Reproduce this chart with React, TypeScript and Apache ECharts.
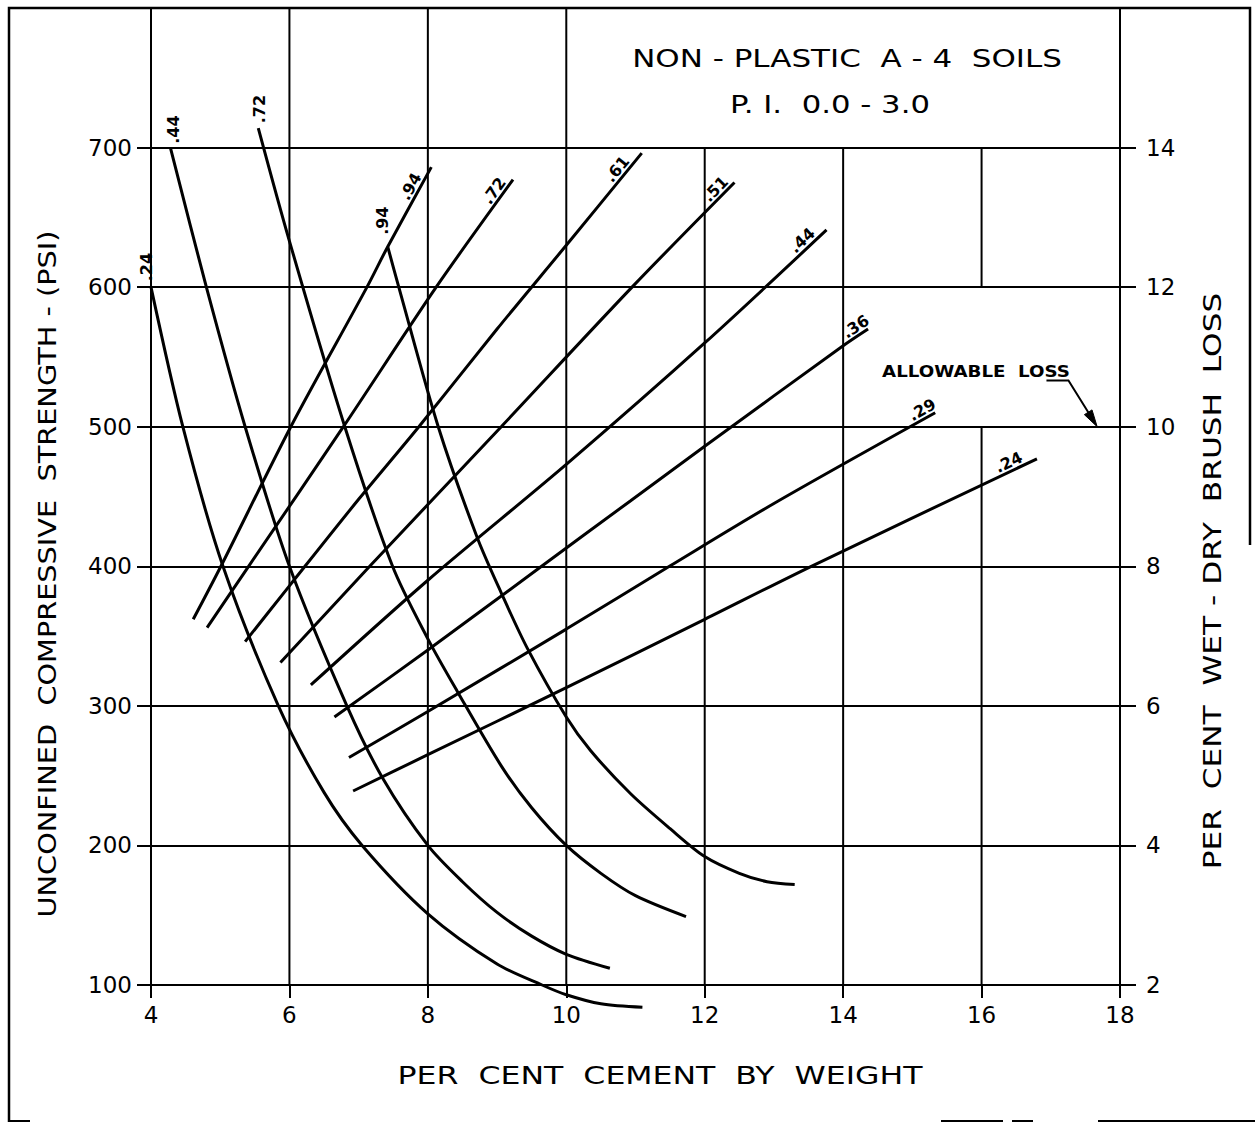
import { useEffect, useRef } from 'react';
import * as echarts from 'echarts';

const FONT = '"DejaVu Sans", "Liberation Sans", sans-serif';
const INK = '#000';

// Axis values
const cementTicks = [4, 6, 8, 10, 12, 14, 16, 18];
const strengthTicks = [100, 200, 300, 400, 500, 600, 700];
const lossTicks = [2, 4, 6, 8, 10, 12, 14];
const strengthTop = 800; // upper edge of the sheet, in psi
const lossTop = 16; // same edge on the loss scale
const allowableLoss = 10; // per cent
const allowableArrowCement = 17.67;

// Wet-dry brush loss (per cent) against per cent cement
const loss24 = [[4.0, 12.0], [4.46, 10.0], [5.04, 8.0], [5.84, 6.0], [6.5, 4.76], [7.05, 4.0], [8.0, 3.02], [9.0, 2.3], [9.65, 2.0], [10.0, 1.86], [10.5, 1.73], [11.1, 1.68]];
const loss44 = [[4.28, 14.0], [4.8, 12.0], [5.36, 10.0], [6.0, 8.0], [6.83, 6.0], [7.35, 4.96], [8.0, 4.0], [8.5, 3.48], [9.0, 3.04], [9.5, 2.7], [10.0, 2.44], [10.63, 2.24]];
const loss72 = [[5.55, 14.28], [6.0, 12.66], [6.8, 10.0], [7.49, 8.0], [8.0, 6.96], [8.43, 6.2], [9.06, 5.14], [9.5, 4.54], [10.0, 4.0], [10.5, 3.6], [11.0, 3.28], [11.73, 2.98]];
const loss94 = [[7.42, 12.58], [7.58, 12.0], [8.15, 10.0], [8.71, 8.42], [9.06, 7.62], [9.44, 6.82], [10.0, 5.84], [10.35, 5.36], [10.93, 4.74], [11.5, 4.24], [12.0, 3.84], [12.5, 3.6], [12.9, 3.48], [13.3, 3.44]];

// Unconfined compressive strength (psi) against per cent cement
const strength94 = [[4.61, 362], [5.01, 400], [6.02, 500], [7.12, 600], [7.42, 629], [8.05, 686]];
const strength72 = [[4.81, 356], [5.41, 400], [6.78, 500], [8.12, 600], [9.23, 677]];
const strength61 = [[5.36, 346], [6.0, 386], [7.0, 448], [7.87, 500], [9.0, 570], [10.0, 630], [11.09, 696]];
const strength51 = [[5.87, 331], [7.16, 400], [9.06, 500], [10.95, 600], [12.43, 675]];
const strength44 = [[6.31, 315], [8.0, 390], [10.0, 473], [12.0, 560], [13.76, 641]];
const strength36 = [[6.65, 292], [8.0, 340], [9.56, 397], [10.93, 447], [12.0, 486], [14.0, 558], [14.36, 570]];
const strength29 = [[6.86, 263], [8.0, 296], [10.0, 355], [11.49, 400], [13.0, 445], [15.33, 510]];
const strength24 = [[6.92, 239], [8.0, 265], [10.0, 313], [12.0, 362], [13.54, 400], [16.8, 477]];

const lossCurves = [
  { id: 'loss-24', label: '.24', points: loss24 },
  { id: 'loss-44', label: '.44', points: loss44 },
  { id: 'loss-72', label: '.72', points: loss72 },
  { id: 'loss-94', label: '.94', points: loss94 },
];

const strengthCurves = [
  { id: 'str-94', label: '.94', points: strength94 },
  { id: 'str-72', label: '.72', points: strength72 },
  { id: 'str-61', label: '.61', points: strength61 },
  { id: 'str-51', label: '.51', points: strength51 },
  { id: 'str-44', label: '.44', points: strength44 },
  { id: 'str-36', label: '.36', points: strength36 },
  { id: 'str-29', label: '.29', points: strength29 },
  { id: 'str-24', label: '.24', points: strength24 },
];

// Vertical rules of the sheet: [cement, from psi, to psi]
const verticalRules = [
  [6, 100, strengthTop],
  [8, 100, strengthTop],
  [10, 100, strengthTop],
  [12, 100, 700],
  [14, 100, 700],
  [16, 100, 500],
  [16, 600, 700],
];

// Label layout (screen pixels)
const lossLabelOffset: Record<string, [number, number]> = {
  'loss-24': [-5, -20],
  'loss-44': [3, -18],
  'loss-72': [1, -19],
  'loss-94': [-5, -26],
};
const strengthLabelBack: Record<string, number> = {
  'str-94': 27, 'str-72': 20, 'str-61': 28, 'str-51': 18,
  'str-44': 25, 'str-36': 9, 'str-29': 10, 'str-24': 27,
};
const STRENGTH_LABEL_LIFT = 9;

function measure(text: string, font: string): number {
  const ctx = document.createElement('canvas').getContext('2d');
  if (!ctx) return text.length * 12;
  ctx.font = font;
  return ctx.measureText(text).width;
}

function fittedText(
  text: string, cx: number, cy: number, size: number, width: number,
  rotation = 0, weight = 'normal'
) {
  const w = measure(text, `${weight} ${size}px ${FONT}`);
  return {
    type: 'text', x: cx, y: cy, rotation, scaleX: width / w, z: 20,
    style: {
      text, fill: INK, fontSize: size, fontFamily: FONT, fontWeight: weight,
      align: 'center', verticalAlign: 'middle', textAlign: 'center', textVerticalAlign: 'middle',
    },
  };
}

function plainText(text: string, cx: number, cy: number, size: number, rotation: number) {
  return {
    type: 'text', x: cx, y: cy, rotation, z: 20,
    style: {
      text, fill: INK, fontSize: size, fontFamily: FONT, fontWeight: 'bold',
      align: 'center', verticalAlign: 'middle', textAlign: 'center', textVerticalAlign: 'middle',
    },
  };
}

export default function App() {
  const ref = useRef<HTMLDivElement>(null);

  useEffect(() => {
    if (!ref.current) return;
    const chart = echarts.init(ref.current, undefined, { renderer: 'svg' });

    const axisText = { color: INK, fontFamily: FONT, fontSize: 23 };
    const ruleStyle = { color: INK, width: 2 };
    const curveStyle = { color: INK, width: 3 };

    const series: any[] = [];
    verticalRules.forEach(([x, from, to], i) => {
      series.push({
        id: `rule-${i}`, type: 'line', xAxisIndex: 0, yAxisIndex: 0,
        data: [[x, from], [x, to]], showSymbol: false, symbol: 'none',
        lineStyle: ruleStyle, silent: true, clip: false, z: 1,
      });
    });
    lossCurves.forEach((c) => {
      series.push({
        id: c.id, name: c.label, type: 'line', xAxisIndex: 0, yAxisIndex: 1,
        data: c.points, showSymbol: false, symbol: 'none', smooth: 0.3,
        lineStyle: curveStyle, clip: false, silent: true, z: 3,
      });
    });
    strengthCurves.forEach((c) => {
      series.push({
        id: c.id, name: c.label, type: 'line', xAxisIndex: 0, yAxisIndex: 0,
        data: c.points, showSymbol: false, symbol: 'none', smooth: 0.3,
        lineStyle: curveStyle, clip: false, silent: true, z: 3,
      });
    });

    chart.setOption({
      animation: false,
      backgroundColor: '#fff',
      grid: { left: 151, right: 135, top: 8, bottom: 138, containLabel: false },
      xAxis: {
        type: 'value', min: cementTicks[0], max: cementTicks[cementTicks.length - 1],
        interval: cementTicks[1] - cementTicks[0],
        axisLine: { show: true, onZero: false, lineStyle: ruleStyle },
        axisTick: { show: true, inside: false, length: 13, lineStyle: ruleStyle },
        axisLabel: { ...axisText, margin: 18 },
        splitLine: { show: false },
      },
      yAxis: [
        {
          type: 'value', position: 'left', min: strengthTicks[0], max: strengthTop,
          interval: strengthTicks[1] - strengthTicks[0],
          axisLine: { show: true, onZero: false, lineStyle: ruleStyle },
          axisTick: { show: true, inside: false, length: 14, lineStyle: ruleStyle },
          axisLabel: {
            ...axisText, margin: 19,
            formatter: (v: number) => (strengthTicks.includes(v) ? String(v) : ''),
          },
          splitLine: { show: true, lineStyle: ruleStyle },
        },
        {
          type: 'value', position: 'right', min: lossTicks[0], max: lossTop,
          interval: lossTicks[1] - lossTicks[0],
          axisLine: { show: true, onZero: false, lineStyle: ruleStyle },
          axisTick: { show: true, inside: false, length: 16, lineStyle: ruleStyle },
          axisLabel: {
            ...axisText, margin: 26,
            formatter: (v: number) => (lossTicks.includes(v) ? String(v) : ''),
          },
          splitLine: { show: false },
        },
      ],
      series,
    });

    const toPx = (id: string, p: number[]) =>
      chart.convertToPixel({ seriesId: id } as any, p) as unknown as number[];

    const graphics: any[] = [];

    // Sheet border
    graphics.push({
      type: 'polyline', z: 5,
      shape: { points: [[9, 1122], [9, 8], [1250, 8], [1250, 545]] },
      style: { stroke: INK, lineWidth: 2.5, fill: null },
    });
    [[9, 30], [941, 1003], [1012, 1033], [1098, 1255]].forEach(([a, b]) => {
      graphics.push({
        type: 'line', z: 5, shape: { x1: a, y1: 1121, x2: b, y2: 1121 },
        style: { stroke: INK, lineWidth: 2 },
      });
    });

    // Headings and axis names
    graphics.push(fittedText('NON - PLASTIC  A - 4  SOILS', 847, 59, 25, 430));
    graphics.push(fittedText('P. I.  0.0 - 3.0', 830, 105, 25, 200));
    graphics.push(fittedText('PER  CENT  CEMENT  BY  WEIGHT', 660, 1076, 25, 525));
    graphics.push(fittedText('UNCONFINED  COMPRESSIVE  STRENGTH - (PSI)', 47, 574, 25, 687, Math.PI / 2));
    graphics.push(fittedText('PER  CENT  WET - DRY  BRUSH  LOSS', 1213, 581, 24, 577, Math.PI / 2));

    // Allowable loss note with arrow onto the 10 per cent line
    const tip = chart.convertToPixel({ xAxisIndex: 0, yAxisIndex: 1 } as any, [allowableArrowCement, allowableLoss]) as unknown as number[];
    const elbow = [tip[0] - 28.7, tip[1] - 46.3];
    graphics.push(fittedText('ALLOWABLE  LOSS', 976, 372, 15, 188, 0, 'bold'));
    graphics.push({
      type: 'polyline', z: 6,
      shape: { points: [[elbow[0] - 22, elbow[1]], elbow, [tip[0] - 3, tip[1] - 5]] },
      style: { stroke: INK, lineWidth: 2, fill: null },
    });
    {
      const dx = tip[0] - elbow[0];
      const dy = tip[1] - elbow[1];
      const len = Math.hypot(dx, dy);
      const ux = dx / len, uy = dy / len;
      const bx = tip[0] - ux * 17, by = tip[1] - uy * 17;
      graphics.push({
        type: 'polygon', z: 6,
        shape: { points: [[tip[0], tip[1]], [bx - uy * 4.5, by + ux * 4.5], [bx + uy * 4.5, by - ux * 4.5]] },
        style: { fill: INK, stroke: INK, lineWidth: 1 },
      });
    }

    // Curve labels
    lossCurves.forEach((c) => {
      const p = toPx(c.id, c.points[0]);
      const [ox, oy] = lossLabelOffset[c.id];
      graphics.push(plainText(c.label, p[0] + ox, p[1] + oy, 16, Math.PI / 2));
    });
    strengthCurves.forEach((c) => {
      const n = c.points.length;
      const p1 = toPx(c.id, c.points[n - 1]);
      const p0 = toPx(c.id, c.points[n - 2]);
      const dx = p1[0] - p0[0];
      const dy = p1[1] - p0[1];
      const len = Math.hypot(dx, dy);
      const ux = dx / len, uy = dy / len;
      const back = strengthLabelBack[c.id];
      const cx = p1[0] - ux * back + uy * STRENGTH_LABEL_LIFT;
      const cy = p1[1] - uy * back - ux * STRENGTH_LABEL_LIFT;
      graphics.push(plainText(c.label, cx, cy, 16, Math.atan2(-dy, dx)));
    });

    chart.setOption({ graphic: { elements: graphics } });

    return () => chart.dispose();
  }, []);

  return (
    <div
      ref={ref}
      style={{ position: 'fixed', left: 0, top: 0, width: 1255, height: 1123, background: '#fff' }}
    />
  );
}
